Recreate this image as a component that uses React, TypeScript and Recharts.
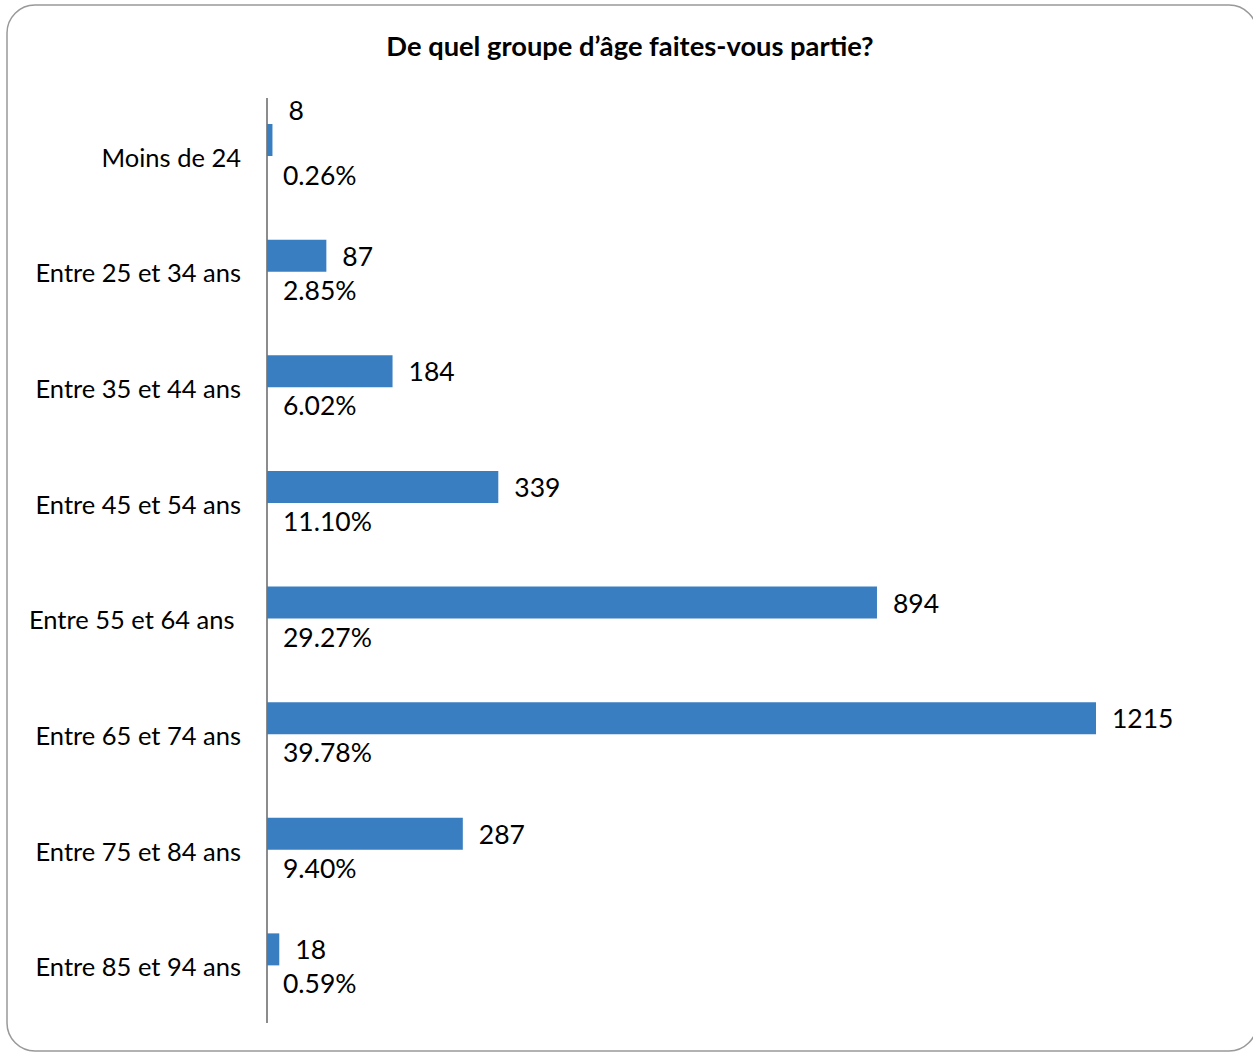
import React from 'react';
import { BarChart, Bar, XAxis, YAxis, LabelList } from 'recharts';

const categories = [
  'Moins de 24',
  'Entre 25 et 34 ans',
  'Entre 35 et 44 ans',
  'Entre 45 et 54 ans',
  'Entre 55 et 64 ans ',
  'Entre 65 et 74 ans',
  'Entre 75 et 84 ans',
  'Entre 85 et 94 ans',
];
const counts = [8, 87, 184, 339, 894, 1215, 287, 18];
const percents = ['0.26%', '2.85%', '6.02%', '11.10%', '29.27%', '39.78%', '9.40%', '0.59%'];
const title = 'De quel groupe d\u2019âge faites-vous partie?';

const data = categories.map((c, i) => ({ name: c, count: counts[i], pct: percents[i] }));

const FONT = 'Lato, "Open Sans", sans-serif';

const Tick = (props: any) => {
  const { x, y, payload } = props;
  return (
    <text x={x} y={y + 17} textAnchor="end" dominantBaseline="central" fontFamily={FONT} fontSize={25.5} fill="#000" style={{ whiteSpace: 'pre' }}>
      {payload.value}
    </text>
  );
};

const LabelContent = (props: any) => {
  const { x, y, width, height, index } = props;
  const cy = y + height / 2;
  const first = index === 0;
  return (
    <g>
      <text x={x + width + 16} y={first ? cy - 30 : cy} dominantBaseline="central" fontFamily={FONT} fontSize={26.5} fill="#000">
        {counts[index]}
      </text>
      <text x={x + 16} y={cy + (first ? 35 : 34)} dominantBaseline="central" fontFamily={FONT} fontSize={26.5} fill="#000">
        {percents[index]}
      </text>
    </g>
  );
};

export default function App() {
  return (
    <div style={{ position: 'absolute', left: 0, top: 0, width: 1253, height: 1053, background: '#fff', overflow: 'hidden' }}>
      <svg width={1253} height={1053} style={{ position: 'absolute', left: 0, top: 0 }}>
        <rect x={7} y={5} width={1250} height={1046} rx={28} ry={28} fill="#fff" stroke="#999" strokeWidth={1.5} />
        <text x={630} y={45} textAnchor="middle" dominantBaseline="central" fontFamily={FONT} fontWeight={700} fontSize={27.3} fill="#000">
          {title}
        </text>
        <line x1={267} y1={98} x2={267} y2={1023} stroke="#8c8c8c" strokeWidth={2} />
      </svg>
      <div style={{ position: 'absolute', left: 0, top: 0 }}>
        <BarChart width={1253} height={1053} data={data} layout="vertical" margin={{ top: 82, right: 157, bottom: 46, left: 0 }} barCategoryGap={0}>
          <XAxis type="number" domain={[0, 1215]} hide />
          <YAxis
            type="category"
            dataKey="name"
            width={267}
            tickLine={false}
            tickSize={0}
            tickMargin={26}
            axisLine={false}
            tick={<Tick />}
            interval={0}
          />
          <Bar dataKey="count" fill="#3A7EC2" barSize={32} isAnimationActive={false}>
            <LabelList dataKey="count" content={<LabelContent />} />
          </Bar>
        </BarChart>
      </div>
    </div>
  );
}
